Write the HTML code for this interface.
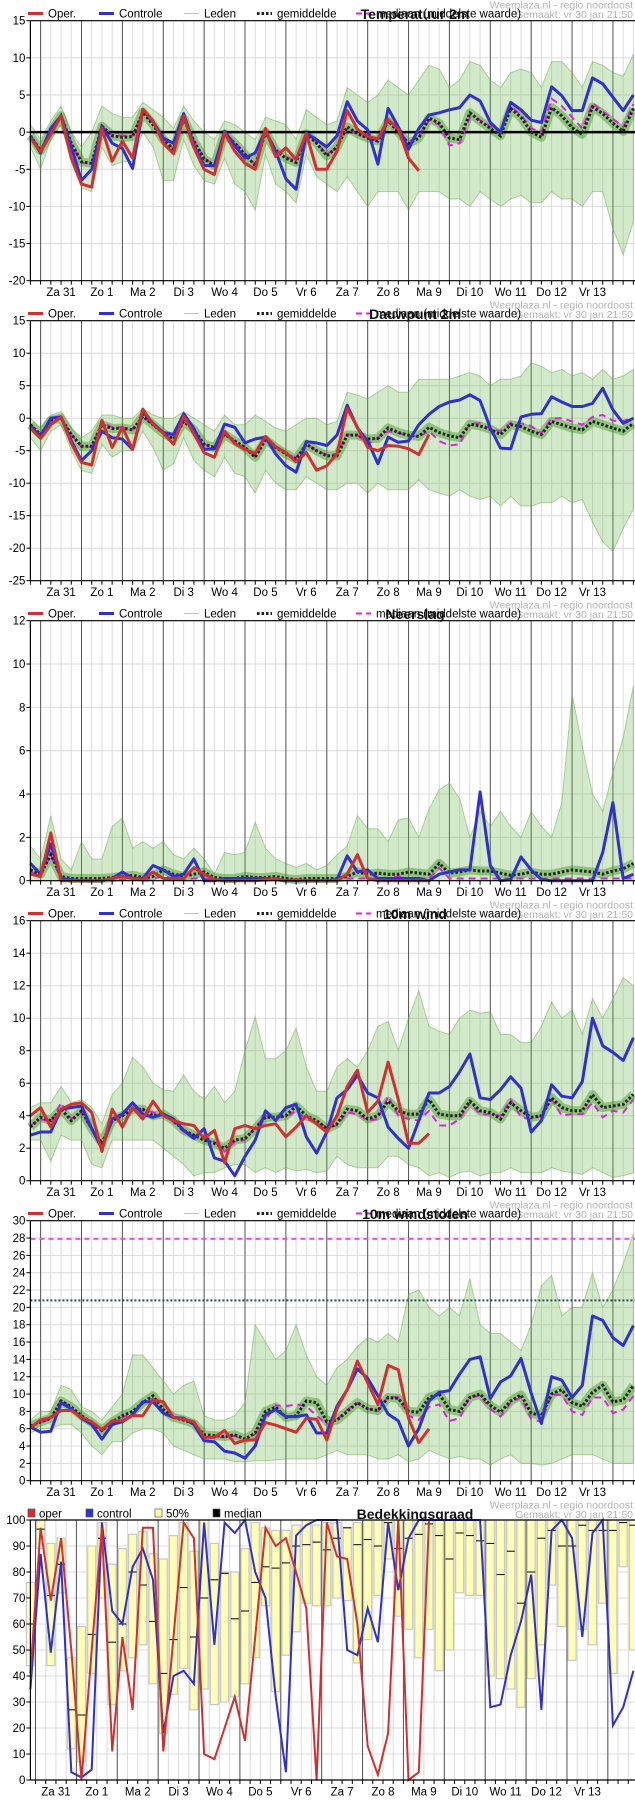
<!DOCTYPE html>
<html><head><meta charset="utf-8"><title>Weerplaza pluim</title>
<style>
html,body{margin:0;padding:0;background:#fff;width:635px;height:1800px;overflow:hidden}
svg{display:block;font-family:"Liberation Sans",sans-serif}
</style></head>
<body>
<svg id="chart" xmlns="http://www.w3.org/2000/svg" width="635" height="1800" viewBox="0 0 635 1800"></svg>
<script>
// ---------- data ----------
const dayLabels = ["Za 31","Zo 1","Ma 2","Di 3","Wo 4","Do 5","Vr 6","Za 7","Zo 8","Ma 9","Di 10","Wo 11","Do 12","Vr 13"];
const titles = ["Temperatuur 2m","Dauwpunt 2m","Neerslag","10m wind","10m windstoten"];
const yTicksT = [15,10,5,0,-5,-10,-15,-20];

const tOper = [-0.8,-2.6,-0.3,2.2,-3.5,-7,-7.4,0.5,-3.9,-1.2,-3.5,3.1,1.5,-1.5,-2.9,2.2,-2.1,-5,-5.7,-0.1,-2.6,-4.2,-5,0.5,-3.3,-2.1,-3.7,-0.2,-5,-5,-2.6,2.9,0.4,-0.6,-0.9,1.7,0.4,-3.5,-5.2];
const tCtrl = [-0.5,-2.8,0.5,2.2,-2,-6.5,-5,0.8,-1.5,-2.2,-4.9,3,1.4,-0.8,-1.5,2.5,-1.8,-4.5,-4.5,0.1,-1.8,-3.5,-2.8,0.2,-2.6,-6.3,-7.7,-0.2,-1,-2,-0.5,4.1,1.5,0.3,-4.3,3.2,0.7,-2.3,0.5,2.3,2.6,3,3.3,5,4.2,1.3,0,4,3,1.6,1.3,6.1,4.9,2.9,2.9,7.3,6.5,4.7,2.9,5];
const tMean = [-0.5,-2.5,0,2.2,-1.5,-4,-4.2,0.8,-0.5,-0.7,-0.6,2.7,1,-1,-2.3,1.8,-1.2,-3.6,-4.5,-0.2,-1.5,-3,-4.5,0,-2.5,-3.5,-4.1,-0.2,-1.5,-3.2,-2,0.7,-0.2,-0.8,-1.2,1.5,0,-1.5,-0.8,1.9,1.2,-0.8,-1,2.6,1.5,0.5,-0.5,3.2,2,0,-0.7,3.3,2.2,0.6,-0.3,3.4,2.5,1.2,0.1,3.2];
const tMed = [-0.6,-2.4,0.1,2.3,-1.6,-4.1,-4.3,0.9,-0.4,-0.5,-0.5,2.8,1.1,-1,-2.2,1.9,-1.1,-3.5,-4.4,-0.1,-1.3,-2.9,-4.3,0.1,-2.3,-3.3,-3.9,-0.1,-1.4,-3,-2.1,0.5,-0.3,-0.7,-1.3,1.5,0.1,-1.3,-0.6,1.6,1,-1.8,-1.5,2,1.6,0.8,0,3.5,2.3,0.5,0,4.5,3.5,2,0.5,3.9,2.8,1.8,0.7,3.8];
const tHi = [1,-1,1.5,3.5,0,-2,0,3.5,2.5,2,2,4,3,2,0.5,3.5,1.5,0,-1,1.5,1,0,-1,2,1.5,1,-1,3,2,1,1.5,6,5,4,5,7,6,5,7,9,8.5,6,7,9.5,9,7,6,8,8.5,8,6,9.5,9.5,8,6,9.5,9,8,7.5,10.5];
const tLo = [-2,-5,-1,1,-4,-7.5,-8,-2,-4.5,-4,-4,0,-2,-6.5,-6.5,-1,-4.5,-6.5,-7,-3.5,-7,-8,-10.5,-3,-7,-8,-9.5,-3,-6,-7,-8,-6,-8,-10,-8,-8,-8,-10.5,-8,-8,-8,-9,-9,-10,-8,-9,-10,-9,-8.5,-9.5,-9.5,-8,-9,-9,-10,-8,-8,-13,-16.5,-12];

const dOper = [-1.5,-3.1,-1,0.2,-3.9,-6.8,-7.2,-0.3,-4.5,-1.4,-4.8,1.4,-0.9,-2.3,-4,0.3,-2.4,-5.3,-6,-2,-3.9,-4.8,-5.4,-2.8,-4.4,-5.3,-6.7,-5.3,-8,-7.3,-5.5,1.5,-1.4,-4.5,-5,-4.2,-4.3,-4.7,-5.6,-2.5];
const dCtrl = [-1.2,-2.8,0,0.2,-3.5,-6.5,-5,-2,-3,-3.2,-4.8,1,-0.8,-2.2,-2.5,0.7,-1.6,-4.8,-4.7,-0.9,-1.4,-3.8,-3.2,-2.9,-5.5,-7.3,-8.3,-3.6,-3.8,-4.2,-2.6,2,-1.5,-3.5,-7,-2.9,-3.7,-3.5,-1,0.6,1.8,2.5,2.8,3.6,2.7,-1.5,-4.6,-4.7,0.2,0.6,0.7,3.3,2.5,1.8,1.8,2.3,4.6,1.3,-0.8,0];
const dMean = [-1,-2.5,-0.3,0,-2.5,-4.3,-4.3,-1,-1.6,-1.5,-1.8,0.3,-1,-2.3,-3.2,-0.5,-1.8,-4,-4.5,-2.5,-3.5,-4.5,-6,-3.3,-4.5,-5.5,-6.3,-4,-5,-5.8,-5.8,-2.6,-2.6,-3.2,-3.1,-1.5,-2.2,-2.6,-2.8,-1.4,-2.2,-2.7,-3,-0.9,-1.2,-1.7,-2.5,-1,-1.3,-2,-2.5,-0.5,-1,-1.5,-1.8,-0.5,-1,-1.5,-2,-0.8];
const dMed = [-1,-2.5,-0.3,0,-2.5,-4.4,-4.4,-0.6,-1.4,-1.4,-1.8,0.3,-1,-2.3,-3.2,-0.5,-1.8,-4,-4.5,-2.5,-3.5,-4.5,-6,-3.3,-4.5,-5.5,-6,-4,-5,-5.6,-5.5,-2.5,-2.6,-4,-3,-2,-2.3,-2.7,-2.8,-2,-3.5,-4.2,-4,-0.8,-0.8,-1.6,-2,-0.7,-0.8,-1.2,-2.3,0,0,-0.5,-1,0.2,0.5,-0.4,-0.4,0];
const dHi = [0,-1.5,0.5,1,-1.5,-3,-2,0.5,0.5,0,0,1.5,0.5,0,0,1,0,-1,-2,0.5,-1,-1,0.5,-0.5,-1.5,-2,-1,0,0,-1,-0.5,4,3.5,3,4,5,4,4,6,6,6,6,6.5,7,6.5,5,6,6,6.5,8.5,8,7,7.5,6.5,7,6,7.5,6,6.5,7.5];
const dLo = [-3,-5,-2,-1,-5,-8,-8.5,-4,-6,-5,-5,-2,-4.5,-8,-7,-3,-6.5,-8,-9,-6,-8.5,-9,-11.5,-8,-10,-11,-11,-9,-10,-11,-11,-10,-10,-11.5,-10,-11,-11,-11,-9.5,-11,-11.5,-12,-11,-12,-12.5,-12,-13.5,-12,-13.5,-13.5,-13,-13,-12,-13,-12.5,-16,-19,-20.5,-17,-14];

const pOper = [0.3,0.2,2.2,0,0,0,0,0,0.1,0.2,0.1,0.05,0.4,0.1,0.1,0.1,0.6,0.3,0.05,0,0,0,0,0.05,0.1,0,0.05,0,0,0,0,0.3,1.2,0.1,0,0,0,0,0,0];
const pCtrl = [0.8,0.3,1.7,0.1,0.05,0,0,0,0.1,0.4,0.1,0.1,0.7,0.5,0.2,0.3,1,0,0,0.1,0.1,0.1,0.1,0.1,0.05,0,0,0,0,0,0.05,1.15,0.4,0.5,0.1,0.1,0.1,0.1,0.1,0,0.3,0.4,0.5,0.5,4.1,0.7,0,0.05,1.1,0.5,0.05,0,0,0,0,0,1.3,3.6,0.1,0.3];
const pMean = [0.5,0.3,1.2,0.2,0.1,0.1,0.1,0.1,0.15,0.2,0.25,0.15,0.2,0.5,0.3,0.2,0.3,0.4,0.15,0.1,0.1,0.2,0.15,0.15,0.2,0.1,0.05,0.1,0.1,0.1,0.1,0.2,0.4,0.3,0.35,0.3,0.3,0.4,0.35,0.3,0.8,0.35,0.4,0.5,0.45,0.45,0.35,0.25,0.3,0.4,0.3,0.3,0.4,0.5,0.45,0.4,0.3,0.45,0.55,0.8];
const pMed = [0.4,0.2,1.2,0.05,0.05,0.05,0.05,0.05,0.05,0.05,0.05,0.05,0.1,0.2,0.1,0.05,0.1,0.1,0.05,0.05,0.05,0.05,0.05,0.05,0.05,0.05,0.05,0.05,0.05,0.05,0.05,0.1,0.1,0.1,0.1,0.1,0.2,0.1,0.1,0.1,0.6,0.1,0.1,0.1,0.1,0.1,0.1,0.1,0.1,0.1,0.1,0.1,0.1,0.1,0.1,0.1,0.1,0.1,0.1,0.1];
const pHi = [1.6,1,3,1,0.5,1.8,1,1,2.5,2.9,1.5,1.8,1.5,1.8,1.2,1,1.5,1,0.3,1.3,1.2,1.3,2.7,1.5,1,0.8,0.6,0.8,0.5,0.7,1.2,1.6,3,2.4,2.4,1.8,2.8,2.9,2,3.3,4.2,4.5,3.8,2,3.2,2.5,3.2,2.5,2,3.2,2.5,2,3.6,8.6,6.2,4,3.2,5,6.6,9];
const pLo = [0,0,0,0,0,0,0,0,0,0,0,0,0,0,0,0,0,0,0,0,0,0,0,0,0,0,0,0,0,0,0,0,0,0,0,0,0,0,0,0,0,0,0,0,0,0,0,0,0,0,0,0,0,0,0,0,0,0,0,0];

const wOper = [4,4.5,3.3,4.4,4.7,4.8,4.2,1.8,4.4,3.3,4.5,3.8,4.9,4,3.7,3.5,3.4,2.6,3.1,1.1,3.2,3.4,3.2,3.4,3.5,2.7,3.3,4,3.5,3,4,5.8,6.8,4.2,4.9,7.3,5,2.3,2.3,2.9];
const wCtrl = [2.8,3,3,4.4,4.5,4.6,3.2,2,3.8,4.1,4.8,4.1,3.9,4.1,3.8,3.1,2.6,3.2,1.4,1.2,0.3,1.5,2.5,4.3,3.7,4.5,4.7,2.7,1.7,3,5.1,5.6,6.5,5.4,5.1,3.3,2.6,2,3.7,5.4,5.4,5.8,6.7,7.8,5.1,5,5.6,6.4,5.7,3,3.7,5.9,5.2,5.1,6.1,10,8.3,7.9,7.4,8.8];
const wMean = [3.3,3.9,3.7,4.4,3.7,4.3,3.2,2.3,3.7,4,4.4,4.4,4,4.1,3.7,3.1,2.8,2.5,2.3,2,2.5,2.6,3.2,3.9,3.9,4,4.6,4,3.7,3.2,3.5,4.4,4.3,3.8,4,4.9,4.3,4.1,4.1,5,4.1,4,4,4.9,4.3,4.2,3.8,4.8,4.3,3.9,4,5.1,4.5,4.3,4.3,5.3,4.5,4.6,4.7,5.3];
const wMed = [3.4,3.8,3.6,4.8,3.8,4.2,3.1,2.2,3.6,4,4.3,4.4,4.2,4.1,3.6,3,2.8,2.6,2.4,1.8,2.4,2.5,3.3,4,3.9,3.9,4.3,3.8,3.6,3.3,3.4,4.2,4.1,3.7,3.8,5.2,4,3.8,3.7,4.3,3.4,3.4,3.8,4.8,4.1,4.1,4,5,3.9,3.8,4,5,4,4.1,4.1,4.8,3.9,4.3,4.2,5];
const wHi = [4.5,4.8,4.8,5.8,4.8,5,4.5,3.5,5.3,6,7.6,7,6,5.6,5.5,6.5,5.5,5,5.8,4.8,5.5,8,10.1,7.5,7.5,8,9.4,7,5.5,5.5,7,7.5,7,8,9.5,9.8,8,10,11.7,9.5,9.2,9,10,10.5,10.3,10.4,9,9,8.5,8.5,9.5,11,10,10.5,9,11.2,10,11.2,12.5,12];
const wLo = [2.5,2.5,1.2,2.8,2.5,2.5,1,0.8,2.5,2.5,2.5,2.5,2.5,2,1.5,1,0.3,0.5,0.5,0.8,1,1,0.5,0.8,0.5,0.8,0.6,0.7,0.5,0.6,1.5,1,0.8,0.8,0.8,1.5,1.5,1,0.8,0.3,0.5,0.2,0.5,0.6,0.3,0.5,0.5,0.8,0.5,0.5,0.5,0.8,0.6,0.5,0.4,0.8,0.5,0.2,0.3,0.5];

const gOper = [6.1,7,7.3,8.1,8.1,7.3,6.8,5.9,6.9,6.9,7.5,7.5,9.3,9.1,7.3,7.1,6.8,5,5,5.8,4.3,4.7,4.7,6.7,6.4,6,5.6,7.2,7.1,4.7,8.3,10.5,13.8,11.3,8.8,13.3,12.8,7.2,4.4,6];
const gCtrl = [6.2,5.6,5.7,9,8.3,7.2,6.5,4.8,6.5,6.8,7.6,9.1,9.1,7.8,7.3,7.2,6.5,4.6,4.5,3.4,3.2,2.6,4,7.6,8.2,7.4,7.4,7.6,5.5,5.5,8.6,10.5,12.9,11.8,9.8,7.7,6.9,4,6,9.2,10.2,10.4,12.3,14,14.3,9.5,11.4,12.1,14.1,10.1,6.6,12,11.6,9.6,11,19,18.5,16.5,15.6,17.9];
const gMean = [6.3,6.8,7.2,9.2,8.5,7.5,6.7,5.8,6.8,7.5,8,9,9.8,8.2,7.3,7,6.6,5.3,5.2,5.1,5.3,4.8,5.5,8,8.5,7.3,7.5,9.2,9,6.8,7,8,9,8.3,8.1,9.6,9.5,8,7.9,9.6,10,8.2,8,9.6,10,8.7,7.9,9.2,9.9,7.8,7.5,10,10.5,9,8.6,10.2,11,9.1,9.3,11];
const gMed = [6.2,6.7,7.1,9.4,8.4,7.3,6.5,5.7,6.8,7.3,7.8,8.9,9.5,8,7.2,7,6.5,5.1,5,5,5.2,4.6,5.4,7,8.7,8.6,8.8,8.6,7.5,6.5,7,8.2,9,8.3,8,9.7,9.6,7.5,7,8.5,8.8,6.9,7.2,9.7,9.8,8.3,7.4,9,9.6,7.1,6.8,9.9,9.9,8,7.6,9.6,9.6,7.8,8.2,9.8];
const gHi = [7,8,8,11,10.5,8.5,8,7,8.5,10,14.5,14.5,13,11.5,10,11,11.5,7.5,7,7,7.5,9,18,16,14,15,18,14.5,12,11,13,14,15.5,16.5,16,17,16,21.5,22,20,19,20,19,23.3,18,17,17,16,15,18,22.5,23.7,19,20,20,24,20,22,25,28.5];
const gLo = [5.5,6,6,6.5,6.5,5.5,4,3,4.5,4.5,5.5,6,6,5.5,4,3.5,3,2.5,2.5,2.5,2.2,2.2,2.3,2.3,2.4,2.5,2.5,2.5,2.5,3,3.5,3,3,3,2.5,2.5,3,2.2,2.5,3.5,3,2.5,2.8,2.5,2.5,1.8,2.5,3,2,2,1.8,2,2.5,3,3,3,2.5,2,2,2];
const gustLevels = [27.9, 20.8];

const cQ25 = [44,89,44,72,12,7,41,70,29,42,47,52,37,18,33,43,27,35,29,30,32,37,47,67,34,48,57,68,67,67,70,69,45,54,71,85,63,58,47,58,42,50,72,71,71,40,39,35,28,39,52,75,59,46,58,52,68,41,82,50];
const cQ75 = [76,100,91,93,47,59,90,99,83,89,94.5,95.5,87,85,94,99,88,100,91,80,80,89,99,97,96,96,98,100,98,99,99,97,99,100,100,100,100,100,100,100,100,100,100,100,100,100,100,100,100,100,100,100,100,100,100,100,100,100,100,100];
const cMed = [60,96.5,71,83,27,25,56,93,53,60,80,75,61,41,54,74,55,70,77,79.5,62,65,76,82,81.5,83.5,90,90.5,91.5,88.5,93,97,90.5,92.5,90,99,89,93,94.5,98.5,94,85,95,94,92,91,79,88,68,80,93,96,90,90,98,96,96,96,99,98];
const cOper = [41,97,69,93,50,0,50,97,11,55,27,97,97,11,55,99,93,10,8,20,32,15,55,97,90,93,80,66,0,99,86,85,60,13,2,18,100,0,3,100];
const cCtrl = [35,87,49,84,3,1,4,99,65,60,82,89,77,18,40,42,37,99,52,99,95,100,80,70,32,3,94,98,100,100,100,50,48,66,53,99,73,93,100,100,100,100,100,100,100,28,29,48,61,79,27,96,100,93,55,95,100,21,28,42];

// ---------- layout ----------
const svg = document.getElementById('chart');
const NS = 'http://www.w3.org/2000/svg';
const X0 = 30.4, DX = 10.22, NPTS = 60, XR = 635;
function xAt(i){ return X0 + DX*i; }
function mk(tag, attrs, parent){
  const e = document.createElementNS(NS, tag);
  for (const k in attrs) e.setAttribute(k, attrs[k]);
  (parent||svg).appendChild(e);
  return e;
}
function txt(s, attrs, parent){ const e = mk('text', attrs, parent); e.textContent = s; return e; }
function pathOf(arr, y){ return arr.map((v,i)=>(i?'L':'M')+xAt(i).toFixed(1)+','+y(v).toFixed(1)).join(''); }

function header(g, oy, title, cover){
  const wm1 = txt('Weerplaza.nl - regio noordoost', {x:633,y:oy+8.5,'text-anchor':'end','font-size':10.5,fill:'#b4b4b4'}, g);
  
  
  const wm2 = txt('Gemaakt: vr 30 jan 21:50', {x:633,y:oy+18,'text-anchor':'end','font-size':10.5,fill:'#b4b4b4'}, g);
  
  
  const lg = mk('g', {}, g);
  
  
  const ly = oy+13.5, ty = oy+17.5;
  if (!cover){
    const items = [
      {x:28, t:'Oper.', st:{stroke:'#d03030','stroke-width':3}},
      {x:99, t:'Controle', st:{stroke:'#3030d0','stroke-width':3}},
      {x:184, t:'Leden', st:{stroke:'#a8d49a','stroke-width':1}},
      {x:257, t:'gemiddelde', st:{stroke:'#222','stroke-width':3,'stroke-dasharray':'2.5 2'}},
      {x:356, t:'mediaan (middelste waarde)', st:{stroke:'#e020e0','stroke-width':2,'stroke-dasharray':'6 4'}}
    ];
    items.forEach(it=>{
      const ent = mk('g', {}, lg);
      
      
      mk('line', Object.assign({x1:it.x,x2:it.x+15,y1:ly,y2:ly}, it.st), ent);
      txt(it.t, {x:it.x+20,y:ty,'font-size':11.5,fill:'#000'}, ent);
    });
  } else {
    const items = [{x:28,c:'#d03030',t:'oper'},{x:86,c:'#3030d0',t:'control'},{x:155,c:'#ffffb0',t:'50%'},{x:213,c:'#000',t:'median'}];
    items.forEach(it=>{
      const ent = mk('g', {}, lg);
      
      
      mk('rect', {x:it.x,y:oy+9,width:7,height:8,fill:it.c,stroke:'#555','stroke-width':0.7}, ent);
      txt(it.t, {x:it.x+11,y:ty,'font-size':11.5,fill:'#000'}, ent);
    });
  }
  const tt = txt(title, {x:415,y:oy+19,'text-anchor':'middle','font-size':14,'font-weight':'bold',
    'font-family':'"Liberation Sans Narrow","Liberation Sans",sans-serif',fill:'#111'}, g);
  
  
}

function xAxis(g, top, bot, labOffset, darkOffset){
  // vertical grid
  for (let i=0;i<NPTS;i++){
    const x = xAt(i + (darkOffset%1));
    if (x > XR) break;
    const vl = mk('line',{x1:x,x2:x,y1:top,y2:bot,stroke:'#dcdcdc','stroke-width':1}, g);
    
    
  }
  for (let k=0;k<15;k++){
    const x = xAt(darkOffset + 4*k);
    if (x > XR) break;
    const dl = mk('line',{x1:x,x2:x,y1:top,y2:bot,stroke:'#555','stroke-width':1}, g);
    
    
  }
}
function xAxisLabels(g, bot, labOffset, darkOffset){
  for (let i=0;i<NPTS+1;i++){
    const x = xAt(i + (darkOffset%1));
    if (x > XR) break;
    mk('line',{x1:x,x2:x,y1:bot,y2:bot+4,stroke:'#000','stroke-width':1}, g);
  }
  dayLabels.forEach((d,k)=>{
    const l = txt(d, {x:xAt(labOffset+4*k),y:bot+15.5,'text-anchor':'middle','font-size':11.5,fill:'#000'}, g);
    
    
  });
}

function linePanel(p, oy, min, max, step, title, oper, ctrl, mean, med, hi, lo, extra){
  const g = mk('g', {});
  
  
  const top = oy+20.7, bot = oy+280.7;
  const y = v => bot - (v-min)/(max-min)*(bot-top);
  header(g, oy, title, false);
  // horizontal grid
  for (let v=min; v<=max+1e-9; v+=step){
    const hl = mk('line',{x1:X0,x2:XR,y1:y(v),y2:y(v),stroke:'#dcdcdc','stroke-width':1}, g);
    
    
  }
  xAxis(g, top, bot, 3, 1);
  // ensemble envelope
  let d = pathOf(hi, y);
  for (let i=lo.length-1;i>=0;i--) d += 'L'+xAt(i).toFixed(1)+','+y(lo[i]).toFixed(1);
  const band = mk('path',{d:d+'Z',fill:'rgba(110,185,80,0.30)',stroke:'rgba(90,165,60,0.45)','stroke-width':1}, g);
  
  
  const core = mk('path',{d:pathOf(mean,y),fill:'none',stroke:'rgba(60,150,30,0.45)','stroke-width':9,'stroke-linejoin':'round'}, g);
  
  
  if (extra) extra(g, y);
  const mdn = mk('path',{d:pathOf(med,y),fill:'none',stroke:'#e020e0','stroke-width':2,'stroke-dasharray':'7 5'}, g);
  
  
  const mn = mk('path',{d:pathOf(mean,y),fill:'none',stroke:'#222','stroke-width':3,'stroke-dasharray':'2.5 2'}, g);
  
  
  const ct = mk('path',{d:pathOf(ctrl,y),fill:'none',stroke:'#3030d0','stroke-width':3,'stroke-linejoin':'round'}, g);
  
  
  const op = mk('path',{d:pathOf(oper,y),fill:'none',stroke:'#d03030','stroke-width':3,'stroke-linejoin':'round'}, g);
  
  
  // axes
  mk('line',{x1:X0,x2:XR,y1:top,y2:top,stroke:'#000','stroke-width':1.2}, g);
  mk('line',{x1:X0,x2:XR,y1:bot,y2:bot,stroke:'#000','stroke-width':1.2}, g);
  mk('line',{x1:X0,x2:X0,y1:top,y2:bot,stroke:'#000','stroke-width':1.2}, g);
  for (let v=min; v<=max+1e-9; v+=step){
    mk('line',{x1:X0-4,x2:X0,y1:y(v),y2:y(v),stroke:'#000','stroke-width':1}, g);
    const tl = txt(String(Math.round(v)), {x:X0-5,y:y(v)+4,'text-anchor':'end','font-size':11.5,fill:'#000'}, g);
    
    
  }
  xAxisLabels(g, bot, 3, 1);
}

linePanel(0, 0, -20, 15, 5, titles[0], tOper, tCtrl, tMean, tMed, tHi, tLo, (g,y)=>{
  const z = mk('line',{x1:X0,x2:XR,y1:y(0),y2:y(0),stroke:'#000','stroke-width':2.5}, g);
  
  
});
linePanel(1, 300, -25, 15, 5, titles[1], dOper, dCtrl, dMean, dMed, dHi, dLo);
linePanel(2, 600, 0, 12, 2, titles[2], pOper, pCtrl, pMean, pMed, pHi, pLo);
linePanel(3, 900, 0, 16, 2, titles[3], wOper, wCtrl, wMean, wMed, wHi, wLo);
linePanel(4, 1200, 0, 30, 2, titles[4], gOper, gCtrl, gMean, gMed, gHi, gLo, (g,y)=>{
  const l1 = mk('line',{x1:X0,x2:XR,y1:y(gustLevels[0]),y2:y(gustLevels[0]),stroke:'#ff40ff','stroke-width':2,'stroke-dasharray':'5 4'}, g);
  
  
  const l2 = mk('line',{x1:X0,x2:XR,y1:y(gustLevels[1]),y2:y(gustLevels[1]),stroke:'#205050','stroke-width':2,'stroke-dasharray':'2 2'}, g);
  
  
});

// ---------- cloud cover panel ----------
(function(){
  const oy = 1500, top = 1520, bot = 1780;
  const g = mk('g', {});
  
  
  const y = v => bot - v/100*(bot-top);
  header(g, oy, 'Bedekkingsgraad', true);
  for (let v=0; v<=100; v+=10){
    const hl = mk('line',{x1:X0,x2:XR,y1:y(v),y2:y(v),stroke:'#dcdcdc','stroke-width':1}, g);
    
    
  }
  xAxis(g, top, bot, 2.5, 0.5);
  cQ25.forEach((q,i)=>{
    const b = mk('rect',{x:xAt(i)-4,y:y(cQ75[i]),width:8,height:y(q)-y(cQ75[i]),fill:'#ffffb4',stroke:'#c8c8c8','stroke-width':1.2}, g);
    
    
    const m = mk('line',{x1:xAt(i)-4,x2:xAt(i)+4,y1:y(cMed[i]),y2:y(cMed[i]),stroke:'#000','stroke-width':1}, g);
    
    
  });
  const ct = mk('path',{d:pathOf(cCtrl,y),fill:'none',stroke:'#3030d0','stroke-width':2}, g);
  
  
  const op = mk('path',{d:pathOf(cOper,y),fill:'none',stroke:'#d03030','stroke-width':2}, g);
  
  
  mk('line',{x1:X0,x2:XR,y1:top,y2:top,stroke:'#000','stroke-width':1.2}, g);
  mk('line',{x1:X0,x2:XR,y1:bot,y2:bot,stroke:'#000','stroke-width':1.2}, g);
  mk('line',{x1:X0,x2:X0,y1:top,y2:bot,stroke:'#000','stroke-width':1.2}, g);
  for (let v=0; v<=100; v+=10){
    mk('line',{x1:X0-4,x2:X0,y1:y(v),y2:y(v),stroke:'#000','stroke-width':1}, g);
    const tl = txt(String(v), {x:X0-5,y:y(v)+4,'text-anchor':'end','font-size':11.5,fill:'#000'}, g);
    
    
  }
  xAxisLabels(g, bot, 2.5, 0.5);
})();
</script>
</body></html>
